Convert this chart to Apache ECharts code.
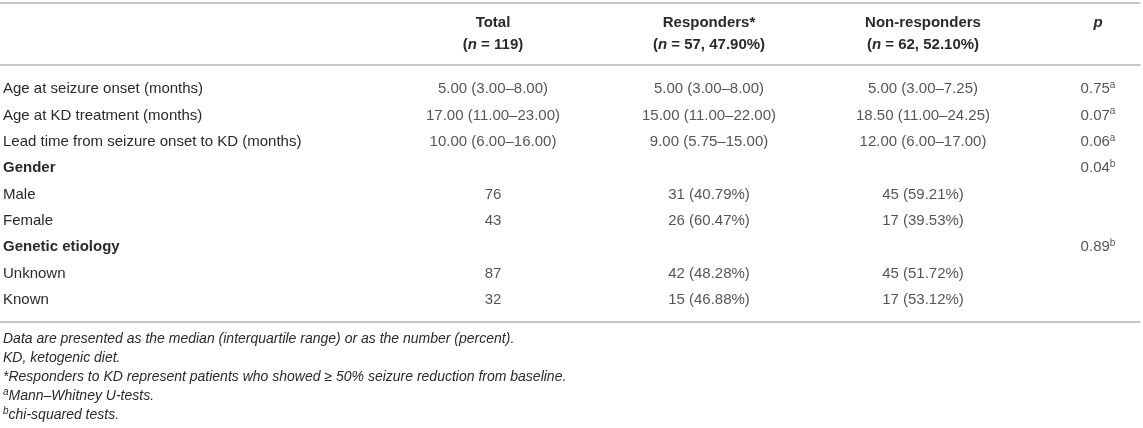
<!DOCTYPE html>
<html>
<head>
<meta charset="utf-8">
<script src="https://cdn.jsdelivr.net/npm/echarts@6/dist/echarts.min.js"></script>
<style>
html,body{margin:0;padding:0;background:#fff;}
#chart{width:1143px;height:428px;}
</style>
</head>
<body>
<div id="chart"></div>
<script>
// ---------- DATA ----------
const rowLabels = [
  'Age at seizure onset (months)',
  'Age at KD treatment (months)',
  'Lead time from seizure onset to KD (months)',
  'Gender',
  'Male',
  'Female',
  'Genetic etiology',
  'Unknown',
  'Known'
];
const groupRows = ['Gender', 'Genetic etiology'];

const columnHeaders = ['Total', 'Responders*', 'Non-responders', 'p'];
const columnCounts = ['119', '57, 47.90%', '62, 52.10%', ''];

const totalCol = ['5.00 (3.00–8.00)', '17.00 (11.00–23.00)', '10.00 (6.00–16.00)', '', '76', '43', '', '87', '32'];
const respondersCol = ['5.00 (3.00–8.00)', '15.00 (11.00–22.00)', '9.00 (5.75–15.00)', '', '31 (40.79%)', '26 (60.47%)', '', '42 (48.28%)', '15 (46.88%)'];
const nonRespondersCol = ['5.00 (3.00–7.25)', '18.50 (11.00–24.25)', '12.00 (6.00–17.00)', '', '45 (59.21%)', '17 (39.53%)', '', '45 (51.72%)', '17 (53.12%)'];
const pValues = ['0.75', '0.07', '0.06', '0.04', '', '', '0.89', '', ''];
const pTests = ['a', 'a', 'a', 'b', '', '', 'b', '', ''];

const footnotes = [
  { mark: '', text: 'Data are presented as the median (interquartile range) or as the number (percent).' },
  { mark: '', text: 'KD, ketogenic diet.' },
  { mark: '', text: '*Responders to KD represent patients who showed ≥ 50% seizure reduction from baseline.' },
  { mark: 'a', text: 'Mann–Whitney U-tests.' },
  { mark: 'b', text: 'chi-squared tests.' }
];

// ---------- LAYOUT / STYLE ----------
const FONT = "'Liberation Sans', Arial, Helvetica, sans-serif";
const TEXT = '#2a2a2a';
const RULE = '#b4b4b4';
const BODY_TOP = 89, BODY_BOTTOM = 128;
const HEAD_GAP = 24, FOOT_GAP = 22, TOP_GAP = 86;
const colLayout = [
  { left: 393, width: 200 },
  { left: 609, width: 200 },
  { left: 823, width: 200 },
  { left: 1058, width: 80 }
];

const colTexts = [
  totalCol,
  respondersCol,
  nonRespondersCol,
  pValues.map((v, i) => v ? '{v|' + v + '}{s|' + pTests[i] + '}' : '')
];

const cellRich = {
  v: { fontSize: 15, fontFamily: FONT, color: TEXT, lineHeight: 18 },
  s: { fontSize: 10, fontFamily: FONT, color: TEXT, lineHeight: 14, verticalAlign: 'top' }
};
const headRich = {
  b: { fontSize: 15, fontWeight: 'bold', fontFamily: FONT, color: TEXT, lineHeight: 22 },
  bi: { fontSize: 15, fontWeight: 'bold', fontStyle: 'italic', fontFamily: FONT, color: TEXT, lineHeight: 22 }
};

const grids = [{ left: 0, right: 3, top: BODY_TOP, bottom: BODY_BOTTOM }]
  .concat(colLayout.map(c => ({ left: c.left, width: c.width, top: BODY_TOP, bottom: BODY_BOTTOM })));

const hiddenAxisParts = { axisTick: { show: false }, splitLine: { show: false } };

const xAxes = [
  Object.assign({ gridIndex: 0, type: 'category', data: [''], position: 'top', offset: TOP_GAP,
    axisLine: { show: true, lineStyle: { color: RULE, width: 1.5 } }, axisLabel: { show: false } }, hiddenAxisParts),
  Object.assign({ gridIndex: 0, type: 'category', data: [''], position: 'top', offset: HEAD_GAP,
    axisLine: { show: true, lineStyle: { color: RULE, width: 1.5 } }, axisLabel: { show: false } }, hiddenAxisParts),
  Object.assign({ gridIndex: 0, type: 'category', data: [''], position: 'bottom', offset: FOOT_GAP,
    axisLine: { show: true, lineStyle: { color: RULE, width: 1.5 } }, axisLabel: { show: false } }, hiddenAxisParts)
].concat(columnHeaders.map((h, k) => Object.assign({
  gridIndex: k + 1, type: 'category', data: [h], position: 'top', offset: HEAD_GAP,
  axisLine: { show: false },
  axisLabel: {
    show: true, interval: 0, margin: 9, verticalAlign: 'bottom',
    formatter: function (val) {
      const idx = columnHeaders.indexOf(val);
      if (!columnCounts[idx]) return '{bi|' + val + '}\n{b| }';
      return '{b|' + val + '}\n{b|(}{bi|n}{b| = ' + columnCounts[idx] + ')}';
    },
    rich: headRich
  }
}, hiddenAxisParts)));

const yAxes = [
  Object.assign({
    gridIndex: 0, type: 'category', data: rowLabels, inverse: true, boundaryGap: false,
    axisLine: { show: false },
    axisLabel: {
      show: true, interval: 0, align: 'left', margin: -3,
      formatter: function (val) {
        return groupRows.indexOf(val) >= 0 ? '{g|' + val + '}' : '{r|' + val + '}';
      },
      rich: {
        g: { fontSize: 15, fontWeight: 'bold', fontFamily: FONT, color: TEXT },
        r: { fontSize: 15, fontFamily: FONT, color: TEXT }
      }
    }
  }, hiddenAxisParts)
].concat(colLayout.map((c, k) => Object.assign({
  gridIndex: k + 1, type: 'category', data: rowLabels, inverse: true, boundaryGap: false,
  axisLine: { show: false }, axisLabel: { show: false }
}, hiddenAxisParts)));

const series = colTexts.map((texts, k) => ({
  type: 'scatter',
  xAxisIndex: k + 3,
  yAxisIndex: k + 1,
  symbol: 'circle',
  symbolSize: 1,
  silent: true,
  itemStyle: { color: 'rgba(0,0,0,0)' },
  label: {
    show: true, position: 'inside', align: 'center', verticalAlign: 'middle',
    formatter: function (p) { return p.name; },
    rich: cellRich,
    fontSize: 15, fontFamily: FONT, color: TEXT
  },
  data: texts.map((t, i) => t ? { name: t.indexOf('{') === 0 ? t : '{v|' + t + '}', value: [0, i] } : null)
    .filter(d => d !== null)
}));

const footRich = {
  f: { fontSize: 14, fontStyle: 'italic', fontFamily: FONT, color: TEXT, lineHeight: 19 },
  m: { fontSize: 10, fontStyle: 'italic', fontFamily: FONT, color: TEXT, lineHeight: 14, verticalAlign: 'top' }
};
const footText = footnotes.map(f => (f.mark ? '{m|' + f.mark + '}' : '') + '{f|' + f.text + '}').join('\n');

const chart = echarts.init(document.getElementById('chart'), null, { renderer: 'canvas' });
chart.setOption({
  animation: false,
  backgroundColor: '#ffffff',
  title: {
    text: footText,
    left: 3, top: 330, padding: 0, itemGap: 0,
    textStyle: { fontSize: 14, fontStyle: 'italic', fontWeight: 'normal', fontFamily: FONT, color: TEXT, lineHeight: 19, rich: footRich }
  },
  grid: grids,
  xAxis: xAxes,
  yAxis: yAxes,
  series: series
});
</script>
</body>
</html>
